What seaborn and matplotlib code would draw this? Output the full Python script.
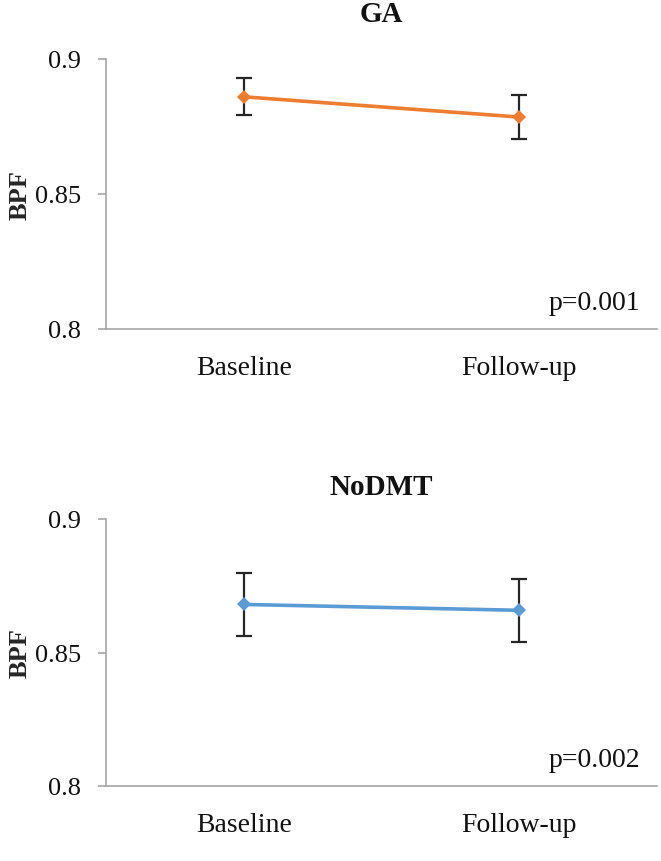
import matplotlib
matplotlib.use("Agg")
import matplotlib.pyplot as plt
import seaborn as sns
import pandas as pd

sns.set_theme(style="white")
plt.rcParams['font.family'] = ['Liberation Serif', 'DejaVu Serif']

timepoints = ["Baseline", "Follow-up"]
ga_mean = [0.886, 0.8785]
ga_err = [0.0068, 0.0080]
nodmt_mean = [0.868, 0.8658]
nodmt_err = [0.0118, 0.0117]
titles = ["GA", "NoDMT"]
pvals = ["p=0.001", "p=0.002"]
colors = ["#ED7D31", "#5B9BD5"]
yticks = [0.8, 0.85, 0.9]
ytick_labels = ["0.8", "0.85", "0.9"]

fig = plt.figure(figsize=(6.61, 8.62), dpi=100)
W, H = 661, 862
# axes boxes in pixel coords: (left, top, right, bottom)
boxes = [(106, 60, 657, 330), (106, 520, 657, 787)]
title_offsets = [46, 32]

series = [(ga_mean, ga_err), (nodmt_mean, nodmt_err)]
for i, ((mean, err), box) in enumerate(zip(series, boxes)):
    l, t, r, b = box
    ax = fig.add_axes([l / W, 1 - b / H, (r - l) / W, (b - t) / H])
    df = pd.DataFrame({"x": [0, 1], "y": mean, "err": err})
    ax.errorbar(df["x"], df["y"], yerr=df["err"], fmt="none", ecolor="#262626",
                elinewidth=1.6, capsize=6, capthick=1.6, zorder=2)
    sns.lineplot(data=df, x="x", y="y", ax=ax, color=colors[i], linewidth=2.6,
                 marker="D", markersize=7, markeredgewidth=0, zorder=3)
    ax.set_xlim(-0.5, 1.5)
    ax.set_ylim(0.8, 0.9)
    ax.set_xticks([0, 1])
    ax.set_xticklabels(timepoints, fontsize=20)
    ax.set_yticks(yticks)
    ax.set_yticklabels(ytick_labels, fontsize=19)
    ax.set_xlabel("")
    ax.set_ylabel("BPF", fontsize=19, fontweight="bold", labelpad=2)
    ax.text(0.5, 1 + title_offsets[i] / (b - t), titles[i], transform=ax.transAxes,
            ha="center", va="center", fontsize=21, fontweight="bold", color="#111111")
    for s in ["top", "right"]:
        ax.spines[s].set_visible(False)
    for s in ["left", "bottom"]:
        ax.spines[s].set_color("#A6A6A6")
        ax.spines[s].set_linewidth(1.2)
    ax.tick_params(axis="y", which="both", left=True, length=6, width=1.2,
                   color="#A6A6A6", pad=12, labelcolor="#111111")
    ax.tick_params(axis="x", which="both", bottom=False, pad=13, labelcolor="#111111")
    ax.grid(False)
    ax.text(0.97, 26 / (b - t), pvals[i], transform=ax.transAxes, ha="right", va="center",
            fontsize=20, color="#111111")

fig.savefig("out.png", dpi=100)
